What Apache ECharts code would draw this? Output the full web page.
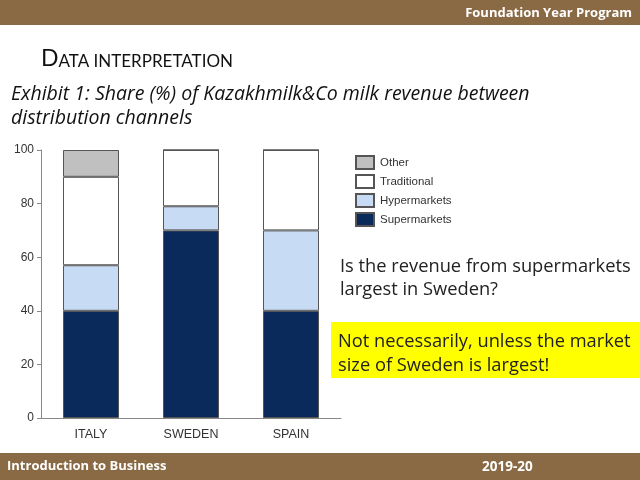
<!DOCTYPE html>
<html><head><meta charset="utf-8">
<script src="https://cdn.jsdelivr.net/npm/echarts@6/dist/echarts.min.js"></script>
<style>html,body{margin:0;padding:0;background:#fff}#c{width:640px;height:480px}</style>
</head><body><div id="c"></div>
<script>
const categories = ['ITALY', 'SWEDEN', 'SPAIN'];
const supermarkets = [40, 70, 40];
const hypermarkets = [17, 9, 30];
const traditional = [33, 21, 30];
const other = [10, 0, 0];
const yTicks = [0, 20, 40, 60, 80, 100];

const chart = echarts.init(document.getElementById('c'), null, {renderer: 'canvas'});
const border = {borderColor: '#555', borderWidth: 1};
function s(name, data, color) {
  return {name, type: 'bar', stack: 'total', data, barWidth: 56,
    itemStyle: Object.assign({color}, border)};
}
const F = 'Lato, "Open Sans", sans-serif';
const O = '"Open Sans", sans-serif';
chart.setOption({
  animation: false,
  grid: {left: 41, right: 299, top: 150, bottom: 62},
  xAxis: {type: 'category', data: categories,
    axisLine: {lineStyle: {color: '#888'}}, axisTick: {show: false},
    axisLabel: {color: '#333', fontSize: 12.5, fontFamily: 'Liberation Sans, Arial', margin: 10}},
  yAxis: {type: 'value', min: 0, max: 100, interval: 20,
    splitLine: {show: false},
    axisLine: {show: true, lineStyle: {color: '#888'}},
    axisTick: {show: true, length: 4, lineStyle: {color: '#888'}},
    axisLabel: {color: '#333', fontSize: 12, fontFamily: 'Liberation Sans, Arial', margin: 7}},
  legend: {orient: 'vertical', left: 355, top: 155, padding: 0, itemWidth: 18, itemHeight: 13, itemGap: 4,
    icon: 'rect',
    data: ['Other', 'Traditional', 'Hypermarkets', 'Supermarkets'],
    textStyle: {color: '#333', fontSize: 11.5, fontFamily: 'Liberation Sans, Arial', padding: [0, 0, 0, 1]}},
  series: [
    s('Supermarkets', supermarkets, '#0b2a5c'),
    s('Hypermarkets', hypermarkets, '#c7dcf4'),
    s('Traditional', traditional, '#ffffff'),
    s('Other', other, '#c0c0c0')
  ],
  graphic: [
    {type: 'rect', shape: {x: 0, y: 0, width: 640, height: 25}, style: {fill: '#8a6a45'}, silent: true},
    {type: 'text', right: 8, top: 7, style: {text: 'Foundation Year Program', fill: '#fff', font: 'bold 13px ' + O}},
    {type: 'rect', shape: {x: 0, y: 453, width: 640, height: 27}, style: {fill: '#8a6a45'}},
    {type: 'text', left: 7, top: 460, style: {text: 'Introduction to Business', fill: '#fff', font: 'bold 13px ' + O}},
    {type: 'text', left: 482, top: 460, style: {text: '2019-20', fill: '#fff', font: 'bold 13.5px ' + O}},
    {type: 'text', left: 41, top: 47, style: {
      text: '{a|D}{b|ATA INTERPRETATION}',
      rich: {a: {fontSize: 23, fontFamily: F, fill: '#111', verticalAlign: 'bottom'},
             b: {fontSize: 17, fontFamily: F, fill: '#111', verticalAlign: 'bottom'}}}},
    {type: 'text', left: 11, top: 82, style: {
      text: 'Exhibit 1: Share (%) of Kazakhmilk&Co milk revenue between\ndistribution channels',
      fill: '#111', font: 'italic 19.5px ' + O, lineHeight: 24}},
    {type: 'text', left: 340, top: 255, style: {
      text: 'Is the revenue from supermarkets\nlargest in Sweden?',
      fill: '#222', font: '18.3px ' + O, lineHeight: 23}},
    {type: 'rect', shape: {x: 331, y: 322, width: 309, height: 56}, style: {fill: '#ffff00'}},
    {type: 'text', left: 338, top: 330, style: {
      text: 'Not necessarily, unless the market\nsize of Sweden is largest!',
      fill: '#222', font: '18.3px ' + O, lineHeight: 24}}
  ]
});
</script></body></html>
